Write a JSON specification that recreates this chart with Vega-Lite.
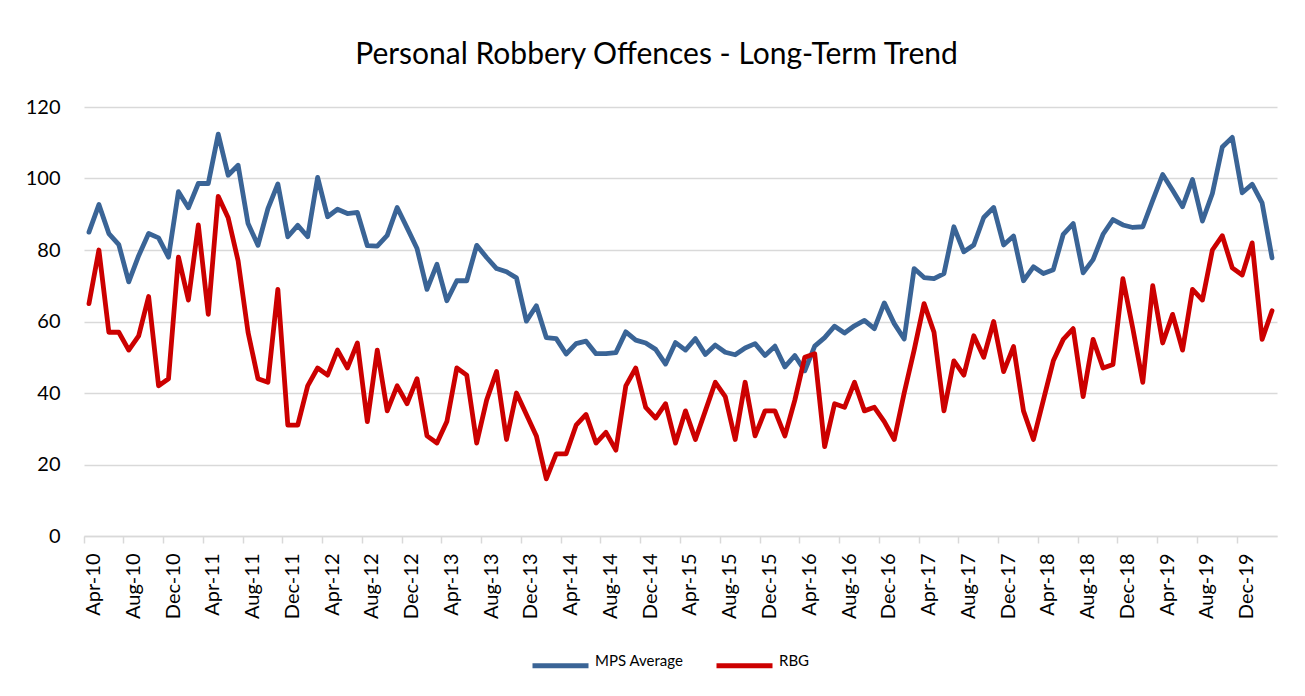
{
 "$schema": "https://vega.github.io/schema/vega-lite/v6.json",
 "width": 1193,
 "height": 429,
 "autosize": {"type": "none"},
 "padding": {"left": 84, "top": 107, "right": 28, "bottom": 160},
 "background": "white",
 "title": {"text": "Personal Robbery Offences - Long-Term Trend", "font": "Lato", "fontSize": 30, "fontWeight": "normal", "color": "#000000", "anchor": "middle", "frame": "group", "dx": -24, "offset": 27},
 "data": {"values": [
{"month":"Apr-10","series":"MPS Average","value":85},
{"month":"May-10","series":"MPS Average","value":92.7},
{"month":"Jun-10","series":"MPS Average","value":84.6},
{"month":"Jul-10","series":"MPS Average","value":81.5},
{"month":"Aug-10","series":"MPS Average","value":71.1},
{"month":"Sep-10","series":"MPS Average","value":78.4},
{"month":"Oct-10","series":"MPS Average","value":84.6},
{"month":"Nov-10","series":"MPS Average","value":83.4},
{"month":"Dec-10","series":"MPS Average","value":78},
{"month":"Jan-11","series":"MPS Average","value":96.3},
{"month":"Feb-11","series":"MPS Average","value":91.8},
{"month":"Mar-11","series":"MPS Average","value":98.6},
{"month":"Apr-11","series":"MPS Average","value":98.6},
{"month":"May-11","series":"MPS Average","value":112.4},
{"month":"Jun-11","series":"MPS Average","value":100.9},
{"month":"Jul-11","series":"MPS Average","value":103.7},
{"month":"Aug-11","series":"MPS Average","value":87.4},
{"month":"Sep-11","series":"MPS Average","value":81.3},
{"month":"Oct-11","series":"MPS Average","value":91.6},
{"month":"Nov-11","series":"MPS Average","value":98.5},
{"month":"Dec-11","series":"MPS Average","value":83.7},
{"month":"Jan-12","series":"MPS Average","value":86.9},
{"month":"Feb-12","series":"MPS Average","value":83.7},
{"month":"Mar-12","series":"MPS Average","value":100.3},
{"month":"Apr-12","series":"MPS Average","value":89.3},
{"month":"May-12","series":"MPS Average","value":91.4},
{"month":"Jun-12","series":"MPS Average","value":90.2},
{"month":"Jul-12","series":"MPS Average","value":90.5},
{"month":"Aug-12","series":"MPS Average","value":81.2},
{"month":"Sep-12","series":"MPS Average","value":81.1},
{"month":"Oct-12","series":"MPS Average","value":84.1},
{"month":"Nov-12","series":"MPS Average","value":91.9},
{"month":"Dec-12","series":"MPS Average","value":86.2},
{"month":"Jan-13","series":"MPS Average","value":80.4},
{"month":"Feb-13","series":"MPS Average","value":69},
{"month":"Mar-13","series":"MPS Average","value":76},
{"month":"Apr-13","series":"MPS Average","value":65.8},
{"month":"May-13","series":"MPS Average","value":71.4},
{"month":"Jun-13","series":"MPS Average","value":71.4},
{"month":"Jul-13","series":"MPS Average","value":81.3},
{"month":"Aug-13","series":"MPS Average","value":77.9},
{"month":"Sep-13","series":"MPS Average","value":74.8},
{"month":"Oct-13","series":"MPS Average","value":73.9},
{"month":"Nov-13","series":"MPS Average","value":72.2},
{"month":"Dec-13","series":"MPS Average","value":60.1},
{"month":"Jan-14","series":"MPS Average","value":64.4},
{"month":"Feb-14","series":"MPS Average","value":55.5},
{"month":"Mar-14","series":"MPS Average","value":55.2},
{"month":"Apr-14","series":"MPS Average","value":50.9},
{"month":"May-14","series":"MPS Average","value":53.8},
{"month":"Jun-14","series":"MPS Average","value":54.5},
{"month":"Jul-14","series":"MPS Average","value":51},
{"month":"Aug-14","series":"MPS Average","value":51},
{"month":"Sep-14","series":"MPS Average","value":51.3},
{"month":"Oct-14","series":"MPS Average","value":57.1},
{"month":"Nov-14","series":"MPS Average","value":54.8},
{"month":"Dec-14","series":"MPS Average","value":54},
{"month":"Jan-15","series":"MPS Average","value":52.2},
{"month":"Feb-15","series":"MPS Average","value":48.1},
{"month":"Mar-15","series":"MPS Average","value":54.1},
{"month":"Apr-15","series":"MPS Average","value":52},
{"month":"May-15","series":"MPS Average","value":55.2},
{"month":"Jun-15","series":"MPS Average","value":50.8},
{"month":"Jul-15","series":"MPS Average","value":53.4},
{"month":"Aug-15","series":"MPS Average","value":51.4},
{"month":"Sep-15","series":"MPS Average","value":50.7},
{"month":"Oct-15","series":"MPS Average","value":52.6},
{"month":"Nov-15","series":"MPS Average","value":53.8},
{"month":"Dec-15","series":"MPS Average","value":50.5},
{"month":"Jan-16","series":"MPS Average","value":53.1},
{"month":"Feb-16","series":"MPS Average","value":47.3},
{"month":"Mar-16","series":"MPS Average","value":50.5},
{"month":"Apr-16","series":"MPS Average","value":46.2},
{"month":"May-16","series":"MPS Average","value":53.1},
{"month":"Jun-16","series":"MPS Average","value":55.5},
{"month":"Jul-16","series":"MPS Average","value":58.7},
{"month":"Aug-16","series":"MPS Average","value":56.8},
{"month":"Sep-16","series":"MPS Average","value":58.8},
{"month":"Oct-16","series":"MPS Average","value":60.3},
{"month":"Nov-16","series":"MPS Average","value":58},
{"month":"Dec-16","series":"MPS Average","value":65.2},
{"month":"Jan-17","series":"MPS Average","value":59.4},
{"month":"Feb-17","series":"MPS Average","value":55.1},
{"month":"Mar-17","series":"MPS Average","value":74.8},
{"month":"Apr-17","series":"MPS Average","value":72.3},
{"month":"May-17","series":"MPS Average","value":72},
{"month":"Jun-17","series":"MPS Average","value":73.4},
{"month":"Jul-17","series":"MPS Average","value":86.5},
{"month":"Aug-17","series":"MPS Average","value":79.5},
{"month":"Sep-17","series":"MPS Average","value":81.4},
{"month":"Oct-17","series":"MPS Average","value":89.1},
{"month":"Nov-17","series":"MPS Average","value":91.9},
{"month":"Dec-17","series":"MPS Average","value":81.4},
{"month":"Jan-18","series":"MPS Average","value":83.9},
{"month":"Feb-18","series":"MPS Average","value":71.4},
{"month":"Mar-18","series":"MPS Average","value":75.3},
{"month":"Apr-18","series":"MPS Average","value":73.4},
{"month":"May-18","series":"MPS Average","value":74.5},
{"month":"Jun-18","series":"MPS Average","value":84.4},
{"month":"Jul-18","series":"MPS Average","value":87.4},
{"month":"Aug-18","series":"MPS Average","value":73.6},
{"month":"Sep-18","series":"MPS Average","value":77.3},
{"month":"Oct-18","series":"MPS Average","value":84.4},
{"month":"Nov-18","series":"MPS Average","value":88.5},
{"month":"Dec-18","series":"MPS Average","value":87},
{"month":"Jan-19","series":"MPS Average","value":86.3},
{"month":"Feb-19","series":"MPS Average","value":86.5},
{"month":"Mar-19","series":"MPS Average","value":93.9},
{"month":"Apr-19","series":"MPS Average","value":101.1},
{"month":"May-19","series":"MPS Average","value":96.7},
{"month":"Jun-19","series":"MPS Average","value":92.1},
{"month":"Jul-19","series":"MPS Average","value":99.7},
{"month":"Aug-19","series":"MPS Average","value":88.1},
{"month":"Sep-19","series":"MPS Average","value":95.8},
{"month":"Oct-19","series":"MPS Average","value":108.8},
{"month":"Nov-19","series":"MPS Average","value":111.5},
{"month":"Dec-19","series":"MPS Average","value":96},
{"month":"Jan-20","series":"MPS Average","value":98.4},
{"month":"Feb-20","series":"MPS Average","value":93.2},
{"month":"Mar-20","series":"MPS Average","value":77.8},
{"month":"Apr-10","series":"RBG","value":65},
{"month":"May-10","series":"RBG","value":80},
{"month":"Jun-10","series":"RBG","value":57},
{"month":"Jul-10","series":"RBG","value":57},
{"month":"Aug-10","series":"RBG","value":52},
{"month":"Sep-10","series":"RBG","value":56},
{"month":"Oct-10","series":"RBG","value":67},
{"month":"Nov-10","series":"RBG","value":42},
{"month":"Dec-10","series":"RBG","value":44},
{"month":"Jan-11","series":"RBG","value":78},
{"month":"Feb-11","series":"RBG","value":66},
{"month":"Mar-11","series":"RBG","value":87},
{"month":"Apr-11","series":"RBG","value":62},
{"month":"May-11","series":"RBG","value":95},
{"month":"Jun-11","series":"RBG","value":89},
{"month":"Jul-11","series":"RBG","value":77},
{"month":"Aug-11","series":"RBG","value":57},
{"month":"Sep-11","series":"RBG","value":44},
{"month":"Oct-11","series":"RBG","value":43},
{"month":"Nov-11","series":"RBG","value":69},
{"month":"Dec-11","series":"RBG","value":31},
{"month":"Jan-12","series":"RBG","value":31},
{"month":"Feb-12","series":"RBG","value":42},
{"month":"Mar-12","series":"RBG","value":47},
{"month":"Apr-12","series":"RBG","value":45},
{"month":"May-12","series":"RBG","value":52},
{"month":"Jun-12","series":"RBG","value":47},
{"month":"Jul-12","series":"RBG","value":54},
{"month":"Aug-12","series":"RBG","value":32},
{"month":"Sep-12","series":"RBG","value":52},
{"month":"Oct-12","series":"RBG","value":35},
{"month":"Nov-12","series":"RBG","value":42},
{"month":"Dec-12","series":"RBG","value":37},
{"month":"Jan-13","series":"RBG","value":44},
{"month":"Feb-13","series":"RBG","value":28},
{"month":"Mar-13","series":"RBG","value":26},
{"month":"Apr-13","series":"RBG","value":32},
{"month":"May-13","series":"RBG","value":47},
{"month":"Jun-13","series":"RBG","value":45},
{"month":"Jul-13","series":"RBG","value":26},
{"month":"Aug-13","series":"RBG","value":38},
{"month":"Sep-13","series":"RBG","value":46},
{"month":"Oct-13","series":"RBG","value":27},
{"month":"Nov-13","series":"RBG","value":40},
{"month":"Dec-13","series":"RBG","value":34},
{"month":"Jan-14","series":"RBG","value":28},
{"month":"Feb-14","series":"RBG","value":16},
{"month":"Mar-14","series":"RBG","value":23},
{"month":"Apr-14","series":"RBG","value":23},
{"month":"May-14","series":"RBG","value":31},
{"month":"Jun-14","series":"RBG","value":34},
{"month":"Jul-14","series":"RBG","value":26},
{"month":"Aug-14","series":"RBG","value":29},
{"month":"Sep-14","series":"RBG","value":24},
{"month":"Oct-14","series":"RBG","value":42},
{"month":"Nov-14","series":"RBG","value":47},
{"month":"Dec-14","series":"RBG","value":36},
{"month":"Jan-15","series":"RBG","value":33},
{"month":"Feb-15","series":"RBG","value":37},
{"month":"Mar-15","series":"RBG","value":26},
{"month":"Apr-15","series":"RBG","value":35},
{"month":"May-15","series":"RBG","value":27},
{"month":"Jun-15","series":"RBG","value":35},
{"month":"Jul-15","series":"RBG","value":43},
{"month":"Aug-15","series":"RBG","value":39},
{"month":"Sep-15","series":"RBG","value":27},
{"month":"Oct-15","series":"RBG","value":43},
{"month":"Nov-15","series":"RBG","value":28},
{"month":"Dec-15","series":"RBG","value":35},
{"month":"Jan-16","series":"RBG","value":35},
{"month":"Feb-16","series":"RBG","value":28},
{"month":"Mar-16","series":"RBG","value":38},
{"month":"Apr-16","series":"RBG","value":50},
{"month":"May-16","series":"RBG","value":51},
{"month":"Jun-16","series":"RBG","value":25},
{"month":"Jul-16","series":"RBG","value":37},
{"month":"Aug-16","series":"RBG","value":36},
{"month":"Sep-16","series":"RBG","value":43},
{"month":"Oct-16","series":"RBG","value":35},
{"month":"Nov-16","series":"RBG","value":36},
{"month":"Dec-16","series":"RBG","value":32},
{"month":"Jan-17","series":"RBG","value":27},
{"month":"Feb-17","series":"RBG","value":40},
{"month":"Mar-17","series":"RBG","value":52},
{"month":"Apr-17","series":"RBG","value":65},
{"month":"May-17","series":"RBG","value":57},
{"month":"Jun-17","series":"RBG","value":35},
{"month":"Jul-17","series":"RBG","value":49},
{"month":"Aug-17","series":"RBG","value":45},
{"month":"Sep-17","series":"RBG","value":56},
{"month":"Oct-17","series":"RBG","value":50},
{"month":"Nov-17","series":"RBG","value":60},
{"month":"Dec-17","series":"RBG","value":46},
{"month":"Jan-18","series":"RBG","value":53},
{"month":"Feb-18","series":"RBG","value":35},
{"month":"Mar-18","series":"RBG","value":27},
{"month":"Apr-18","series":"RBG","value":38},
{"month":"May-18","series":"RBG","value":49},
{"month":"Jun-18","series":"RBG","value":55},
{"month":"Jul-18","series":"RBG","value":58},
{"month":"Aug-18","series":"RBG","value":39},
{"month":"Sep-18","series":"RBG","value":55},
{"month":"Oct-18","series":"RBG","value":47},
{"month":"Nov-18","series":"RBG","value":48},
{"month":"Dec-18","series":"RBG","value":72},
{"month":"Jan-19","series":"RBG","value":58},
{"month":"Feb-19","series":"RBG","value":43},
{"month":"Mar-19","series":"RBG","value":70},
{"month":"Apr-19","series":"RBG","value":54},
{"month":"May-19","series":"RBG","value":62},
{"month":"Jun-19","series":"RBG","value":52},
{"month":"Jul-19","series":"RBG","value":69},
{"month":"Aug-19","series":"RBG","value":66},
{"month":"Sep-19","series":"RBG","value":80},
{"month":"Oct-19","series":"RBG","value":84},
{"month":"Nov-19","series":"RBG","value":75},
{"month":"Dec-19","series":"RBG","value":73},
{"month":"Jan-20","series":"RBG","value":82},
{"month":"Feb-20","series":"RBG","value":55},
{"month":"Mar-20","series":"RBG","value":63}
 ]},
 "mark": {"type": "line", "strokeWidth": 4.8, "strokeCap": "round", "strokeJoin": "round"},
 "encoding": {
  "x": {
   "field": "month", "type": "ordinal", "sort": null, "bandPosition": 0.5,
   "scale": {"type": "band", "paddingInner": 0, "paddingOuter": 0},
   "axis": {
    "title": null,
    "values": ["Apr-10","Aug-10","Dec-10","Apr-11","Aug-11","Dec-11","Apr-12","Aug-12","Dec-12","Apr-13","Aug-13","Dec-13","Apr-14","Aug-14","Dec-14","Apr-15","Aug-15","Dec-15","Apr-16","Aug-16","Dec-16","Apr-17","Aug-17","Dec-17","Apr-18","Aug-18","Dec-18","Apr-19","Aug-19","Dec-19"],
    "bandPosition": 0,
    "labelOffset": 5,
    "labelAngle": -90,
    "labelFont": "Lato",
    "labelFontSize": 20,
    "labelColor": "#000000",
    "labelPadding": 10,
    "labelOverlap": false,
    "tickSize": 7,
    "tickColor": "#D9D9D9",
    "tickWidth": 1.5,
    "domainColor": "#D9D9D9",
    "domainWidth": 1.5,
    "grid": false
   }
  },
  "y": {
   "field": "value", "type": "quantitative",
   "scale": {"domain": [0, 120], "nice": false},
   "axis": {
    "title": null,
    "values": [0, 20, 40, 60, 80, 100, 120],
    "grid": true,
    "gridColor": "#D9D9D9",
    "gridWidth": 1.5,
    "domain": false,
    "ticks": false,
    "labelFont": "Lato",
    "labelFontSize": 20,
    "labelColor": "#000000",
    "labelPadding": 24
   }
  },
  "color": {
   "field": "series", "type": "nominal",
   "scale": {"domain": ["MPS Average", "RBG"], "range": ["#3A6496", "#CC0000"]},
   "legend": {
    "title": null,
    "orient": "none",
    "legendX": 446,
    "legendY": 528,
    "direction": "horizontal",
    "symbolType": "stroke",
    "symbolSize": 3136,
    "symbolStrokeWidth": 5,
    "labelFont": "Lato",
    "labelFontSize": 15,
    "labelColor": "#000000",
    "labelOffset": 4,
    "columnPadding": 22,
    "labelBaseline": "alphabetic"
   }
  }
 },
 "config": {"view": {"stroke": null}}
}
